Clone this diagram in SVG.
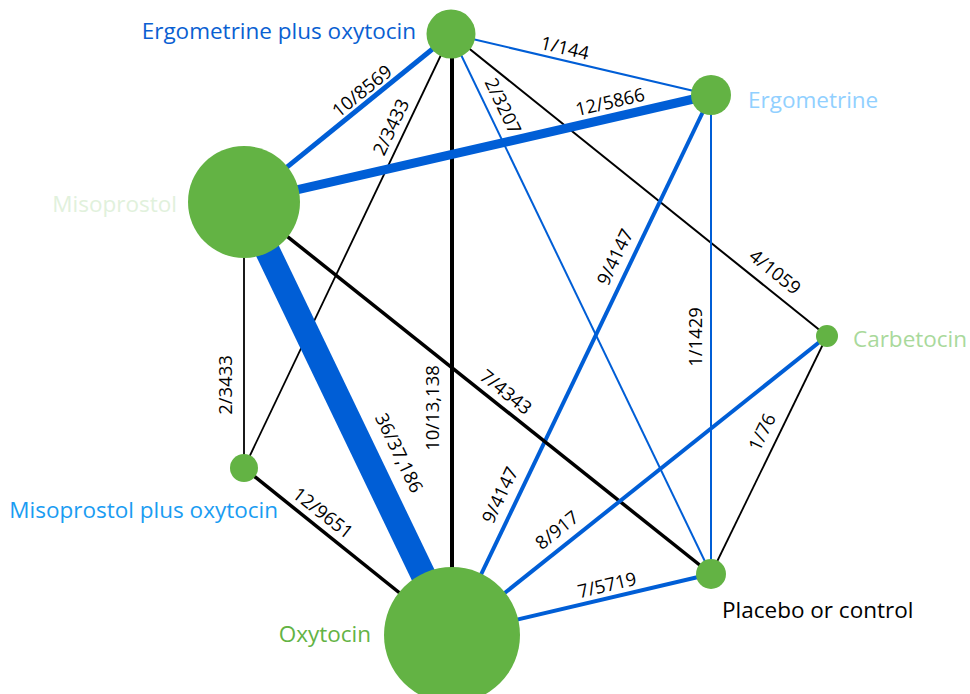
<svg xmlns="http://www.w3.org/2000/svg" width="970" height="694" viewBox="0 0 970 694">
<style>
.node{fill:#63b344}
.e{fill:none;stroke-linecap:butt}
.b{stroke:#005ed6}
.k{stroke:#000}
.el{font-family:"Open Sans","Noto Sans","Liberation Sans",sans-serif;font-size:18.5px;fill:#000;text-anchor:middle}
.nl{font-family:"Open Sans","Noto Sans","Liberation Sans",sans-serif;font-size:22.5px}
</style>
<rect width="970" height="694" fill="#fff"/>
<g id="connectors">
  <line class="e b" x1="451" y1="34" x2="244" y2="202" stroke-width="5"/>
  <line class="e b" x1="451" y1="34" x2="711" y2="95" stroke-width="2"/>
  <line class="e k" x1="451" y1="34" x2="244" y2="468" stroke-width="1.8"/>
  <line class="e k" x1="452" y1="34" x2="452" y2="635" stroke-width="4"/>
  <line class="e b" x1="451" y1="34" x2="711" y2="574" stroke-width="2"/>
  <line class="e k" x1="451" y1="34" x2="827" y2="336" stroke-width="2"/>
  <line class="e b" x1="244" y1="202" x2="711" y2="95" stroke-width="9"/>
  <line class="e b" x1="711" y1="95" x2="452" y2="635" stroke-width="4"/>
  <line class="e b" x1="711" y1="95" x2="711" y2="574" stroke-width="2"/>
  <line class="e b" x1="244" y1="202" x2="452" y2="635" stroke-width="25"/>
  <line class="e k" x1="244" y1="202" x2="711" y2="574" stroke-width="3.5"/>
  <line class="e k" x1="244" y1="202" x2="244" y2="468" stroke-width="1.8"/>
  <line class="e k" x1="244" y1="468" x2="452" y2="635" stroke-width="3.5"/>
  <line class="e b" x1="827" y1="336" x2="452" y2="635" stroke-width="4"/>
  <line class="e k" x1="827" y1="336" x2="711" y2="574" stroke-width="1.8"/>
  <line class="e b" x1="452" y1="635" x2="711" y2="574" stroke-width="4"/>
</g>
<g id="edge-labels">
  <text class="el" transform="translate(362,91) rotate(-39)" dy="0.35em">10/8569</text>
  <text class="el" transform="translate(391,127) rotate(-64.5)" dy="0.35em">2/3433</text>
  <text class="el" transform="translate(565,48) rotate(13.2)" dy="0.35em">1/144</text>
  <text class="el" transform="translate(610,102) rotate(-12.9)" dy="0.35em">12/5866</text>
  <text class="el" transform="translate(503,106) rotate(64.3)" dy="0.35em">2/3207</text>
  <text class="el" transform="translate(615,257) rotate(-64.4)" dy="0.35em">9/4147</text>
  <text class="el" transform="translate(775,272) rotate(38.8)" dy="0.35em">4/1059</text>
  <text class="el" transform="translate(696,337) rotate(-90)" dy="0.35em">1/1429</text>
  <text class="el" transform="translate(762,432) rotate(-64)" dy="0.35em">1/76</text>
  <text class="el" transform="translate(506,392) rotate(38.5)" dy="0.35em">7/4343</text>
  <text class="el" transform="translate(433,408) rotate(-90)" dy="0.35em">10/13,138</text>
  <text class="el" transform="translate(399,453) rotate(64.3)" dy="0.35em">36/37,186</text>
  <text class="el" transform="translate(226,385) rotate(-90)" dy="0.35em">2/3433</text>
  <text class="el" transform="translate(323,513) rotate(38)" dy="0.35em">12/9651</text>
  <text class="el" transform="translate(500,495) rotate(-64.4)" dy="0.35em">9/4147</text>
  <text class="el" transform="translate(557,530) rotate(-38.6)" dy="0.35em">8/917</text>
  <text class="el" transform="translate(607,585) rotate(-13.3)" dy="0.35em">7/5719</text>
</g>
<g id="node-epo">
  <circle class="node" cx="451" cy="34" r="24.5"/>
  <text class="nl" x="416" y="39" text-anchor="end" fill="#0a5fd2">Ergometrine plus oxytocin</text>
</g>
<g id="node-ergometrine">
  <circle class="node" cx="711" cy="95" r="20"/>
  <text class="nl" x="748" y="108" fill="#91d0ff">Ergometrine</text>
</g>
<g id="node-misoprostol">
  <circle class="node" cx="244" cy="202" r="56"/>
  <text class="nl" x="177" y="212" text-anchor="end" fill="#e1f1dc">Misoprostol</text>
</g>
<g id="node-carbetocin">
  <circle class="node" cx="827" cy="336" r="11"/>
  <text class="nl" x="853" y="347" fill="#a9d99b">Carbetocin</text>
</g>
<g id="node-mpo">
  <circle class="node" cx="244" cy="468" r="14"/>
  <text class="nl" x="278" y="518" text-anchor="end" fill="#1a9cf2">Misoprostol plus oxytocin</text>
</g>
<g id="node-placebo">
  <circle class="node" cx="711" cy="574" r="15"/>
  <text class="nl" x="722" y="618" fill="#000">Placebo or control</text>
</g>
<g id="node-oxytocin">
  <circle class="node" cx="452" cy="635" r="68"/>
  <text class="nl" x="371" y="642" text-anchor="end" fill="#63b344">Oxytocin</text>
</g>
</svg>
